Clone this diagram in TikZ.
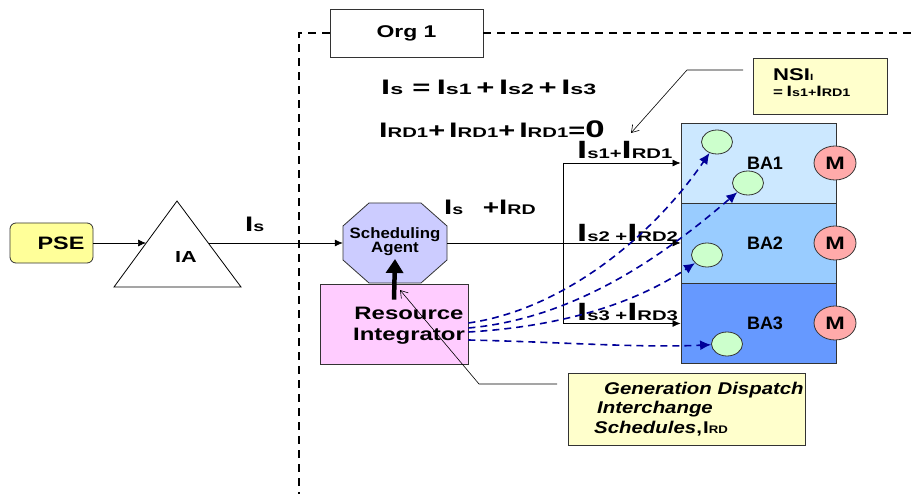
\documentclass[tikz,border=0pt]{standalone}
\usepackage{graphicx}
\usepackage{fontspec}
\setmainfont{Liberation Sans}
\usetikzlibrary{arrows.meta,shapes.geometric}
\newcommand\fs[2]{{\fontsize{#1}{#1}\selectfont #2}}
\newcommand\sx[2]{\scalebox{#1}[1]{#2}}
\definecolor{pseY}{HTML}{FFFF99}
\definecolor{noteY}{HTML}{FFFFCC}
\definecolor{octC}{HTML}{CCCCFF}
\definecolor{riC}{HTML}{FFCCFF}
\definecolor{baA}{HTML}{CCE8FF}
\definecolor{baB}{HTML}{99CCFF}
\definecolor{baC}{HTML}{6699FF}
\definecolor{mC}{HTML}{FFAAAA}
\definecolor{gC}{HTML}{CCFFCC}
\definecolor{navyC}{HTML}{000099}
\begin{document}
\begin{tikzpicture}[x=1pt,y=-1pt,
  box/.style={draw=black!80, line width=0.8pt, inner sep=0pt},
  conn/.style={line width=0.7pt,-{Latex[length=8pt,width=7pt]}},
  call/.style={line width=0.6pt,-{Straight Barb[length=7pt,width=9pt]}},
  flow/.style={navyC,line width=1.6pt,dash pattern=on 7pt off 5pt,-{Latex[length=11pt,width=10pt]}},
  frame/.style={line width=2.8pt,dash pattern=on 8pt off 6pt},
  lbl/.style={font=\bfseries, inner sep=0pt},
  gell/.style={ellipse, draw=black!80, line width=0.8pt, fill=gC, minimum width=31pt, minimum height=24pt, inner sep=0pt},
  mell/.style={ellipse, draw=black!80, line width=0.8pt, fill=mC, minimum width=42pt, minimum height=34pt, inner sep=0pt, font=\bfseries},
  babox/.style={box, minimum width=155pt, minimum height=80pt, font=\bfseries},
]
\useasboundingbox (0,0) rectangle (912,494);

% frame and org
\node[box, fill=white, minimum width=153pt, minimum height=48pt, font=\bfseries] (org) at (406.5,33) {\sx{1.35}{\fs{17}{Org 1}}};
\draw[frame] (org.west) -- (299,33) -- (299,494);
\draw[frame] (org.east) -- (912,33);

% PSE and IA
\node[box, fill=pseY, rounded corners=6pt, minimum width=83pt, minimum height=40pt, font=\bfseries] (pse) at (51.5,243) {\hspace*{19pt}\sx{1.3}{\fs{18}{PSE}}};
\draw[line width=0.8pt] (177,201) -- (241,287) -- (114,287) -- cycle;
\node[lbl] (ia) at (186,257) {\sx{1.35}{\fs{16}{IA}}};
\coordinate (iaL) at (146,243);
\coordinate (iaR) at (209,243);
\draw[conn] (pse.east) -- (iaL);

% scheduling agent
\draw[box, fill=octC] (369,203) -- (421,203) -- (447,226) -- (447,260) -- (421,283) -- (369,283) -- (343,260) -- (343,226) -- cycle;
\node[minimum width=104pt, minimum height=80pt, inner sep=0pt, align=center, font=\bfseries\fontsize{15}{14}\selectfont] (sa) at (395,242)
  {\sx{1.12}{Scheduling}\\\sx{1.12}{Agent}};
\draw[conn] (iaR) -- (sa.west |- iaR);
\node[lbl, anchor=base west] (lis) at (245,232) {\sx{1.4}{\fs{21}{I}\fs{14}{s}}};

% resource integrator
\node[box, fill=riC, minimum width=148pt, minimum height=80pt] (ri) at (394,324) {};
\node[lbl, align=center, font=\bfseries\fontsize{18}{21}\selectfont] (ril) at (409,326) {\sx{1.33}{Resource}\\\sx{1.33}{Integrator}};
\draw[line width=4.5pt, -{Triangle[length=14pt,width=17pt]}] ([yshift=-16pt]ri.north) -- ([yshift=-17pt]sa.center);

% equations
\node[lbl, anchor=base west] (eq1) at (381,95) {\sx{1.55}{\fs{21}{I}\fs{15}{s}\hspace{6pt}\fs{20}{=}\hspace{4pt}\fs{21}{I}\fs{15}{s1}\hspace{3pt}\fs{20}{+}\hspace{3pt}\fs{21}{I}\fs{15}{s2}\hspace{3pt}\fs{20}{+}\hspace{3pt}\fs{21}{I}\fs{15}{s3}}};
\node[lbl, anchor=base west] (eq2) at (379,138) {\sx{1.45}{\fs{21}{I}\fs{14}{RD1}\fs{20}{+} \fs{21}{I}\fs{14}{RD1}\fs{20}{+} \fs{21}{I}\fs{14}{RD1}\fs{20}{=}\fs{24}{0}}};

% BA stack
\node[babox, fill=baA] (ba1) at (758.5,163) {\hspace*{13pt}\fs{18}{BA1}};
\node[babox, fill=baB] (ba2) at (758.5,243) {\hspace*{13pt}\fs{18}{BA2}};
\node[babox, fill=baC] (ba3) at (758.5,323.5) {\hspace*{13pt}\fs{18}{BA3}};
\node[mell] (m1) at (835,163) {\sx{1.3}{\fs{18}{M}}};
\node[mell] (m2) at (835,243) {\sx{1.3}{\fs{18}{M}}};
\node[mell] (m3) at (835,323) {\sx{1.3}{\fs{18}{M}}};
\node[gell] (g1) at (717,142) {};
\node[gell] (g2) at (748,183) {};
\node[gell] (g3) at (707,255) {};
\node[gell] (g4) at (727,344) {};

% bus
\coordinate (busT) at (563,163);
\coordinate (busB) at (563,323.5);
\draw[conn] (sa.east |- ba2.west) -- (ba2.west);
\draw[line width=0.7pt] (busT) -- (busB);
\draw[conn] (busT) -- (ba1.west);
\draw[conn] (busB) -- (ba3.west);
\node[lbl, anchor=base west] (l1) at (577,159) {\sx{1.45}{\fs{25}{I}\fs{14}{s1+}\fs{25}{I}\fs{14}{RD1}}};
\node[lbl, anchor=base west] (l2) at (577,241) {\sx{1.45}{\fs{25}{I}\fs{14}{s2 +}\fs{25}{I}\fs{14}{RD2}}};
\node[lbl, anchor=base west] (l3) at (577,320) {\sx{1.45}{\fs{25}{I}\fs{14}{s3 +}\fs{25}{I}\fs{14}{RD3}}};
\node[lbl, anchor=base west] (l0) at (444,215) {\sx{1.4}{\fs{21}{I}\fs{14}{s}\hspace{14pt}\fs{20}{+}\fs{21}{I}\fs{14}{RD}}};

% flows
\draw[flow] ([yshift=1pt]ri.east) .. controls (560,310) and (650,240) .. (g1);
\draw[flow] ([yshift=-4pt]ri.east) .. controls (580,318) and (670,250) .. (g2);
\draw[flow] ([yshift=-8pt]ri.east) .. controls (570,326) and (640,300) .. (g3);
\draw[flow] ([yshift=-16pt]ri.east) .. controls (560,342) and (640,348) .. (g4);

% NSI note
\node[box, fill=noteY, minimum width=134pt, minimum height=56pt] (nsi) at (820,86) {};
\node[lbl, anchor=base west] (nsit1) at (773,81) {\sx{1.3}{\fs{17}{NSI}\fs{9}{I}}};
\node[lbl, anchor=base west] (nsit2) at (773,97) {\sx{1.3}{\fs{13}{=} \fs{15}{I}\fs{11}{s1+}\fs{15}{I}\fs{11}{RD1}}};
\coordinate (nsiA) at (743,70);
\coordinate (nsiB) at (687,70);
\coordinate (nsiC) at (631,133);
\draw[call] (nsiA) -- (nsiB) -- (nsiC);

% generation note
\node[box, fill=noteY, minimum width=237pt, minimum height=72pt] (gen) at (686.5,409) {};
\node[lbl, anchor=base west] (gt1) at (604,394) {\sx{1.2}{\fs{17}{\itshape Generation Dispatch}}};
\node[lbl, anchor=base west] (gt2) at (597,413) {\sx{1.2}{\fs{17}{\itshape Interchange}}};
\node[lbl, anchor=base west] (gt3) at (594,433) {\sx{1.2}{\fs{17}{\itshape Schedules}\fs{17}{,}\hspace{1pt}\fs{17}{I}\fs{11}{RD}}};
\coordinate (genA) at (557,384);
\coordinate (genB) at (479,384);
\coordinate (genC) at (400,290);
\draw[call] (genA) -- (genB) -- (genC);
\end{tikzpicture}
\end{document}
